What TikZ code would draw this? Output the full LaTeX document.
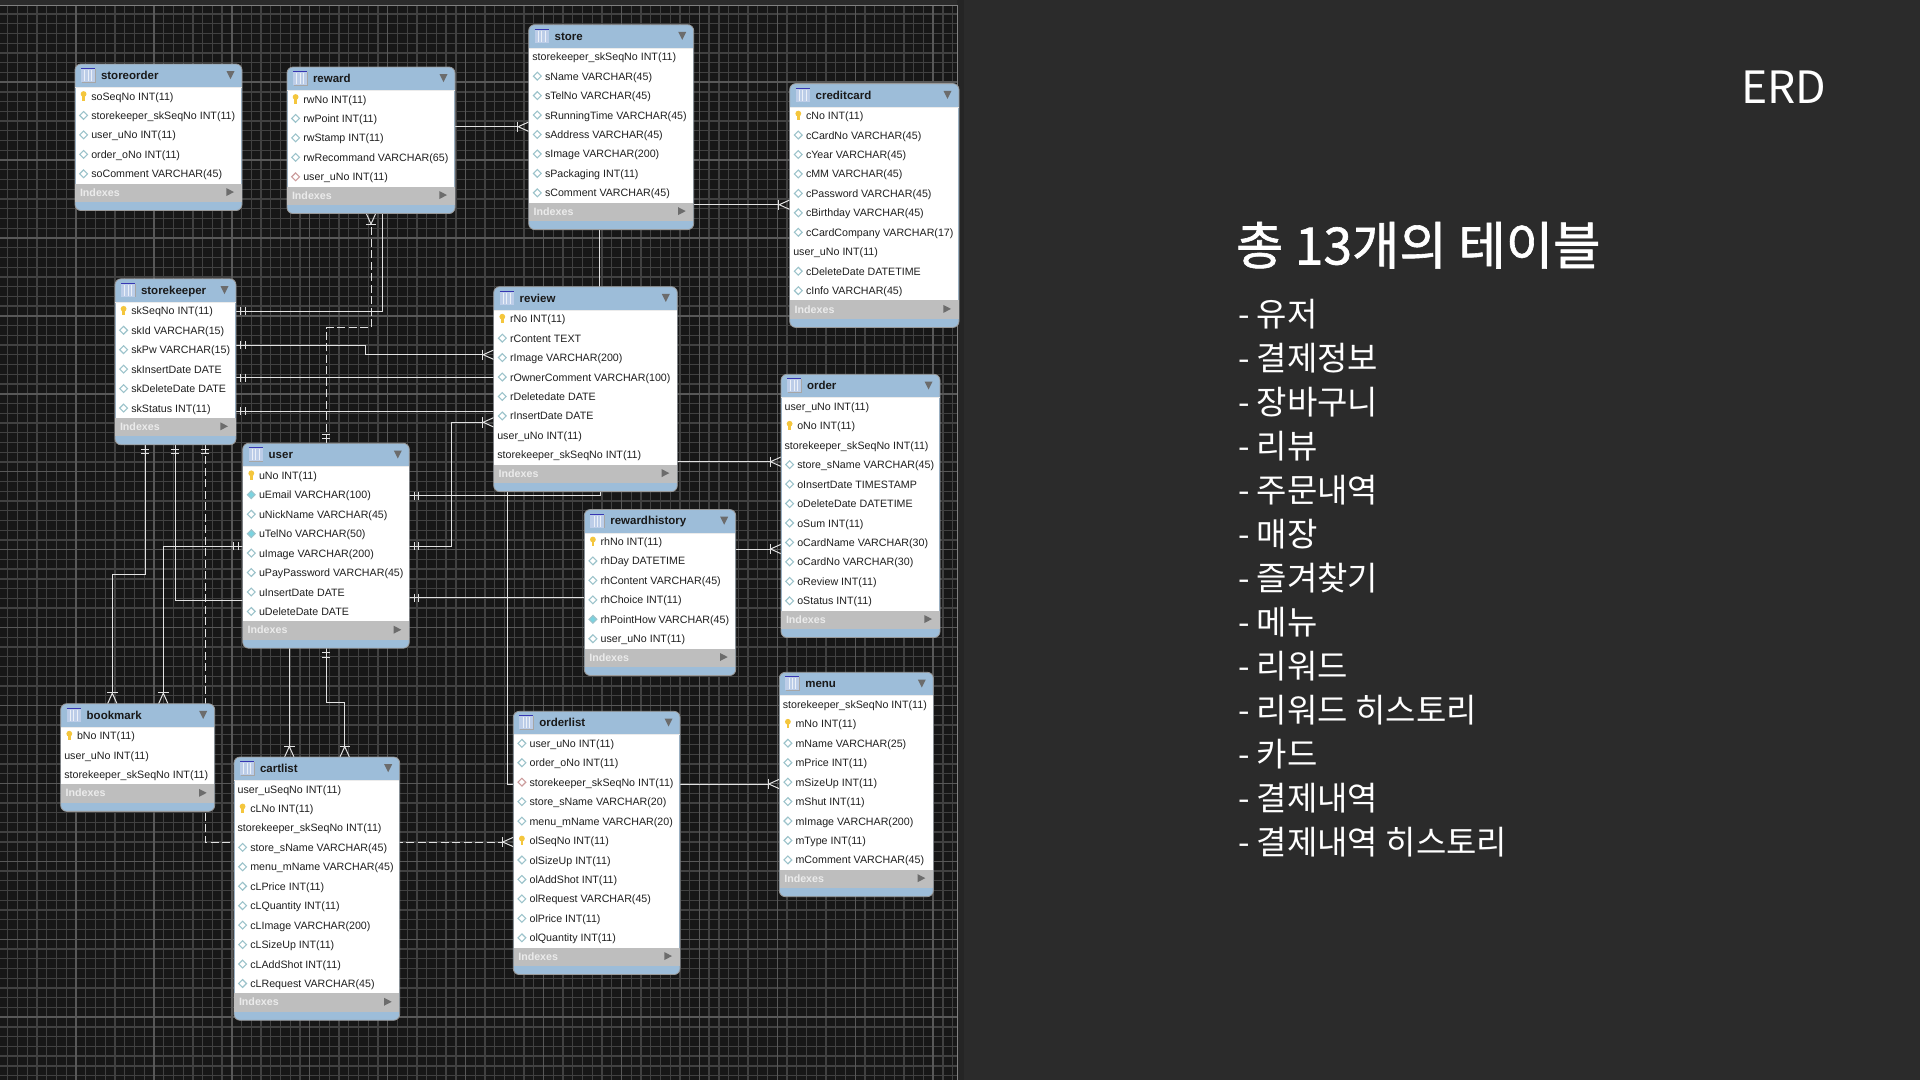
\documentclass[tikz,border=0pt]{standalone}
\usepackage{fontspec}
\setmainfont{Liberation Sans}
\newfontfamily\krfont{Noto Sans CJK KR}
\newfontfamily\krhead[FakeBold=1.2]{Noto Sans CJK KR}
\pgfdeclarelayer{gridlayer}
\pgfdeclarelayer{connlayer}
\pgfsetlayers{gridlayer,connlayer,main}
\definecolor{panelbg}{HTML}{2B2B2B}
\definecolor{canvasbg}{HTML}{171717}
\definecolor{gridminor}{HTML}{414141}
\definecolor{gridmajor}{HTML}{585858}
\definecolor{headblue}{HTML}{9DBDD9}
\definecolor{bandgrey}{HTML}{BEBEBE}
\definecolor{markgrey}{HTML}{6C6C6C}
\definecolor{linecol}{HTML}{E2E2E2}
\definecolor{keygold}{HTML}{F4C63D}
\definecolor{diablue}{HTML}{9CC3CB}
\definecolor{diafill}{HTML}{7AD3E0}
\definecolor{diapink}{HTML}{CC9C9C}
\definecolor{iconfill}{HTML}{BCCDE8}
\tikzset{
  x=1pt,y=-1pt,
  tablebox/.style={draw=black!40,line width=.8pt,fill=headblue,rounded corners=6pt,inner sep=0pt,outer sep=0pt},
  rowtext/.style={inner sep=0pt,outer sep=0pt,anchor=base west,text=black!88,font=\fontsize{10.67}{12}\selectfont},
  titletext/.style={inner sep=0pt,outer sep=0pt,anchor=base west,text=black!90,font=\fontsize{11.5}{13}\selectfont\bfseries},
  idxtext/.style={inner sep=0pt,outer sep=0pt,anchor=base west,text=white!92!black,font=\fontsize{10.67}{12}\selectfont\bfseries},
  conn/.style={draw=linecol,line width=1pt},
  dashconn/.style={conn,dash pattern=on 8pt off 3.5pt},
  footend/.style={shorten >=11pt},
  listtext/.style={inner sep=0pt,outer sep=0pt,anchor=base west,text=white,font=\krfont\fontsize{33}{38}\selectfont},
}
\def\rowxk{16.3}\def\rowxd{16.3}\def\rowxf{16.3}\def\rowxp{16.3}\def\rowxn{3.6}
\newcommand\iconk[2]{\fill[keygold] (#1,#2-2) circle (2.9); \fill[keygold] (#1-1.2,#2-1) rectangle (#1+1.2,#2+4.5);}
\newcommand\icond[2]{\draw[draw=diablue,fill=white,line width=1.1pt] (#1-3.9,#2) -- (#1,#2-3.9) -- (#1+3.9,#2) -- (#1,#2+3.9) -- cycle;}
\newcommand\iconf[2]{\draw[draw=diablue,fill=diafill,line width=1.1pt] (#1-3.9,#2) -- (#1,#2-3.9) -- (#1+3.9,#2) -- (#1,#2+3.9) -- cycle;}
\newcommand\iconp[2]{\draw[draw=diapink,fill=white,line width=1.1pt] (#1-3.9,#2) -- (#1,#2-3.9) -- (#1+3.9,#2) -- (#1,#2+3.9) -- cycle;}
\newcommand\iconn[2]{}
% name, title, left, top, right, number of rows, rows
\newcommand\erdtable[7]{
  \pgfmathsetmacro{\bandtop}{#4+22.3+19.45*#6}
  \pgfmathsetmacro{\tblh}{22.3+19.45*#6+27}
  \node[tablebox,minimum width={(#5-#3)*1pt},minimum height={\tblh*1pt},anchor=north west] (#1) at (#3,#4) {};
  \fill[white] (#3+.6,#4+23) rectangle (#5-.6,\bandtop);
  \fill[bandgrey] (#3+.4,\bandtop) rectangle (#5-.4,\bandtop+18.3);
  \fill[black!8] (#3+.4,#4+23) rectangle (#5-.4,#4+24);
  % title icon
  \fill[black!35] (#3+6.6,#4+5) rectangle (#3+20.6,#4+18.6);
  \fill[iconfill] (#3+6,#4+4) rectangle (#3+20,#4+18);
  \draw[white!70!iconfill,line width=.7pt] (#3+9.6,#4+6) -- (#3+9.6,#4+17) (#3+13,#4+6) -- (#3+13,#4+17) (#3+16.4,#4+6) -- (#3+16.4,#4+17);
  \draw[blue!70!white!70!black,line width=1pt] (#3+6,#4+4.5) -- (#3+20,#4+4.5);
  \node[titletext] (#1-title) at (#3+26,#4+15.4) {#2};
  \fill[markgrey] (#5-15.5,#4+7.2) -- (#5-7.5,#4+7.2) -- (#5-11.5,#4+15.2) -- cycle;
  \node[idxtext] (#1-idx) at (#3+5,\bandtop+12.6) {Indexes};
  \fill[markgrey] (#5-15.7,\bandtop+4.5) -- (#5-8,\bandtop+8.5) -- (#5-15.7,\bandtop+12.5) -- cycle;
  \foreach[count=\ri from 0] \rk/\rt in {#7}{
    \pgfmathsetmacro{\rowy}{#4+36+19.45*\ri}
    \csname icon\rk\endcsname{#3+8.6}{\rowy-4}
    \node[rowtext] (#1-\ri) at ({#3+\csname rowx\rk\endcsname},\rowy) {\rt};
  }
}
% crow's foot: tip on the table edge, rotation picks the side
\newcommand\crowfoot[2]{\begin{scope}[shift={(#1)},rotate=#2]
  \draw[conn] (-11,-5.2) -- (-11,5.2);
  \draw[conn] (0,-4.7) -- (-10.5,0) -- (0,4.7);
\end{scope}}
% double bar: on the table edge, pointing outward at rotation 0 = +x
\newcommand\dbars[2]{\begin{scope}[shift={(#1)},rotate=#2]
  \draw[conn] (4.7,-4) -- (4.7,4) (9,-4) -- (9,4);
\end{scope}}
\begin{document}
\begin{tikzpicture}
\useasboundingbox (0,0) rectangle (1920,1080);
\begin{pgfonlayer}{gridlayer}
  \fill[panelbg] (0,0) rectangle (1920,1080);
  \fill[black!100!panelbg,opacity=.12] (957,0) rectangle (964,1080);
  \fill[canvasbg] (0,5) rectangle (957.3,1080);
  \begin{scope}
    \clip (0,5) rectangle (957.3,1080);
    \foreach \n in {0,...,99}{
      \draw[gridminor,line width=1.3pt] (-1.9+9.74*\n,0) -- (-1.9+9.74*\n,1080);
    }
    \foreach \n in {0,...,111}{
      \draw[gridminor,line width=1.3pt] (0,4.2+9.74*\n) -- (960,4.2+9.74*\n);
    }
    \foreach \n in {0,...,12}{
      \draw[gridmajor,line width=1.4pt] (-1.9+77.92*\n,0) -- (-1.9+77.92*\n,1080);
    }
    \foreach \n in {0,...,14}{
      \draw[gridmajor,line width=1.4pt] (0,4.2+77.92*\n) -- (960,4.2+77.92*\n);
    }
  \end{scope}
  \draw[black!50!white,line width=1pt] (0,5.2) -- (957.3,5.2) -- (957.3,1080);
\end{pgfonlayer}

\erdtable{storeorder}{storeorder}{75}{64}{242}{5}{k/soSeqNo INT(11),d/storekeeper\_skSeqNo INT(11),d/user\_uNo INT(11),d/order\_oNo INT(11),d/soComment VARCHAR(45)}
\erdtable{reward}{reward}{287}{67}{455}{5}{k/rwNo INT(11),d/rwPoint INT(11),d/rwStamp INT(11),d/rwRecommand VARCHAR(65),p/user\_uNo INT(11)}
\erdtable{store}{store}{528.7}{24.7}{693.7}{8}{n/storekeeper\_skSeqNo INT(11),d/sName VARCHAR(45),d/sTelNo VARCHAR(45),d/sRunningTime VARCHAR(45),d/sAddress VARCHAR(45),d/sImage VARCHAR(200),d/sPackaging INT(11),d/sComment VARCHAR(45)}
\erdtable{creditcard}{creditcard}{789.7}{83.6}{959}{10}{k/cNo INT(11),d/cCardNo VARCHAR(45),d/cYear VARCHAR(45),d/cMM VARCHAR(45),d/cPassword VARCHAR(45),d/cBirthday VARCHAR(45),d/cCardCompany VARCHAR(17),n/user\_uNo INT(11),d/cDeleteDate DATETIME,d/cInfo VARCHAR(45)}
\erdtable{storekeeper}{storekeeper}{115}{278.8}{236}{6}{k/skSeqNo INT(11),d/skId VARCHAR(15),d/skPw VARCHAR(15),d/skInsertDate DATE,d/skDeleteDate DATE,d/skStatus INT(11)}
\erdtable{review}{review}{493.7}{286.7}{677.3}{8}{k/rNo INT(11),d/rContent TEXT,d/rImage VARCHAR(200),d/rOwnerComment VARCHAR(100),d/rDeletedate DATE,d/rInsertDate DATE,n/user\_uNo INT(11),n/storekeeper\_skSeqNo INT(11)}
\erdtable{order}{order}{781}{374.3}{940}{11}{n/user\_uNo INT(11),k/oNo INT(11),n/storekeeper\_skSeqNo INT(11),d/store\_sName VARCHAR(45),d/oInsertDate TIMESTAMP,d/oDeleteDate DATETIME,d/oSum INT(11),d/oCardName VARCHAR(30),d/oCardNo VARCHAR(30),d/oReview INT(11),d/oStatus INT(11)}
\erdtable{user}{user}{242.7}{443.3}{409.3}{8}{k/uNo INT(11),f/uEmail VARCHAR(100),d/uNickName VARCHAR(45),f/uTelNo VARCHAR(50),d/uImage VARCHAR(200),d/uPayPassword VARCHAR(45),d/uInsertDate DATE,d/uDeleteDate DATE}
\erdtable{rewardhistory}{rewardhistory}{584.3}{509.5}{735.7}{6}{k/rhNo INT(11),d/rhDay DATETIME,d/rhContent VARCHAR(45),d/rhChoice INT(11),f/rhPointHow VARCHAR(45),d/user\_uNo INT(11)}
\erdtable{menu}{menu}{779.3}{672.3}{933.3}{9}{n/storekeeper\_skSeqNo INT(11),k/mNo INT(11),d/mName VARCHAR(25),d/mPrice INT(11),d/mSizeUp INT(11),d/mShut INT(11),d/mImage VARCHAR(200),d/mType INT(11),d/mComment VARCHAR(45)}
\erdtable{orderlist}{orderlist}{513.3}{711.3}{680}{11}{d/user\_uNo INT(11),d/order\_oNo INT(11),p/storekeeper\_skSeqNo INT(11),d/store\_sName VARCHAR(20),d/menu\_mName VARCHAR(20),k/olSeqNo INT(11),d/olSizeUp INT(11),d/olAddShot INT(11),d/olRequest VARCHAR(45),d/olPrice INT(11),d/olQuantity INT(11)}
\erdtable{bookmark}{bookmark}{60.7}{703.7}{214.7}{3}{k/bNo INT(11),n/user\_uNo INT(11),n/storekeeper\_skSeqNo INT(11)}
\erdtable{cartlist}{cartlist}{234}{757}{399.7}{11}{n/user\_uSeqNo INT(11),k/cLNo INT(11),n/storekeeper\_skSeqNo INT(11),d/store\_sName VARCHAR(45),d/menu\_mName VARCHAR(45),d/cLPrice INT(11),d/cLQuantity INT(11),d/cLImage VARCHAR(200),d/cLSizeUp INT(11),d/cLAddShot INT(11),d/cLRequest VARCHAR(45)}

\begin{pgfonlayer}{connlayer}
  % reward - store
  \draw[conn,footend] (reward.east |- 0,126.7) -- (store.west |- 0,126.7);
  \crowfoot{store.west |- 0,126.7}{0}
  % store - creditcard
  \draw[conn,footend] (store.east |- 0,204.7) -- (creditcard.west |- 0,204.7);
  \crowfoot{creditcard.west |- 0,204.7}{0}
  % store - review
  \draw[conn] (599.7,0 |- store.south) -- (599.7,0 |- review.north);
  % storekeeper - reward
  \draw[conn] (storekeeper.east |- 0,311.3) -| (382.8,0 |- reward.south);
  \dbars{storekeeper.east |- 0,311.3}{0}
  % user - reward (dashed)
  \draw[dashconn,footend] (326.3,0 |- user.north) -- (326.3,327.7) -- (371,327.7) -- (371,0 |- reward.south);
  \crowfoot{371,0 |- reward.south}{90}
  \dbars{326.3,0 |- user.north}{90}
  % storekeeper - review
  \draw[conn,footend] (storekeeper.east |- 0,345) -- (365,345) -- (365,354.7) -- (review.west |- 0,354.7);
  \dbars{storekeeper.east |- 0,345}{0}
  \crowfoot{review.west |- 0,354.7}{0}
  \draw[conn] (storekeeper.east |- 0,377.7) -- (review.west |- 0,377.7);
  \dbars{storekeeper.east |- 0,377.7}{0}
  \draw[conn] (storekeeper.east |- 0,411) -- (review.west |- 0,411);
  \dbars{storekeeper.east |- 0,411}{0}
  % user - review
  \draw[conn,footend] (user.east |- 0,546) -- (451.7,546) -- (451.7,422.3) -- (review.west |- 0,422.3);
  \dbars{user.east |- 0,546}{0}
  \crowfoot{review.west |- 0,422.3}{0}
  % user - review bottom
  \draw[conn] (user.east |- 0,495.5) -- (600,495.5) -- (600,0 |- review.south);
  \dbars{user.east |- 0,495.5}{0}
  % review - orderlist
  \draw[conn] (507.3,0 |- review.south) -- (507.3,784) -- (orderlist.west |- 0,784);
  % user - rewardhistory
  \draw[conn] (user.east |- 0,597.7) -- (rewardhistory.west |- 0,597.7);
  \dbars{user.east |- 0,597.7}{0}
  % rewardhistory - order
  \draw[conn,footend] (rewardhistory.east |- 0,549) -- (order.west |- 0,549);
  \crowfoot{order.west |- 0,549}{0}
  % review - order
  \draw[conn,footend] (review.east |- 0,461.7) -- (order.west |- 0,461.7);
  \crowfoot{order.west |- 0,461.7}{0}
  % orderlist - menu
  \draw[conn,footend] (orderlist.east |- 0,784) -- (menu.west |- 0,784);
  \crowfoot{menu.west |- 0,784}{0}
  % storekeeper - orderlist (dashed, behind cartlist)
  \draw[dashconn,footend] (205.3,0 |- storekeeper.south) -- (205.3,842) -- (orderlist.west |- 0,842);
  \dbars{205.3,0 |- storekeeper.south}{-90}
  \crowfoot{orderlist.west |- 0,842}{0}
  % storekeeper - bookmark
  \draw[conn,footend] (145,0 |- storekeeper.south) -- (145,574) -- (112.3,574) -- (112.3,0 |- bookmark.north);
  \dbars{145,0 |- storekeeper.south}{-90}
  \crowfoot{112.3,0 |- bookmark.north}{-90}
  % storekeeper - user
  \draw[conn] (175,0 |- storekeeper.south) -- (175,600.7) -- (user.west |- 0,600.7);
  \dbars{175,0 |- storekeeper.south}{-90}
  % user - bookmark
  \draw[conn,footend] (user.west |- 0,546) -- (163.3,546) -- (163.3,0 |- bookmark.north);
  \dbars{user.west |- 0,546}{180}
  \crowfoot{163.3,0 |- bookmark.north}{-90}
  % user - cartlist
  \draw[conn,footend] (289.3,0 |- user.south) -- (289.3,0 |- cartlist.north);
  \crowfoot{289.3,0 |- cartlist.north}{-90}
  \draw[conn,footend] (326,0 |- user.south) -- (326,702.3) -- (344.7,702.3) -- (344.7,0 |- cartlist.north);
  \dbars{326,0 |- user.south}{-90}
  \crowfoot{344.7,0 |- cartlist.north}{-90}
\end{pgfonlayer}

\node[listtext,font=\krfont\fontsize{44.5}{50}\selectfont] (erdtitle) at (1741,103.3) {ERD};
\node[listtext,font=\krhead\fontsize{51.5}{56}\selectfont] (headline) at (1236,264.5) {총 13개의 테이블};
\foreach[count=\li from 0] \lt in {유저,결제정보,장바구니,리뷰,주문내역,매장,즐겨찾기,메뉴,리워드,리워드 히스토리,카드,결제내역,결제내역 히스토리}{
  \node[listtext] (item\li) at (1238,{326.5+43.97*\li}) {- \lt};
}
\end{tikzpicture}
\end{document}
